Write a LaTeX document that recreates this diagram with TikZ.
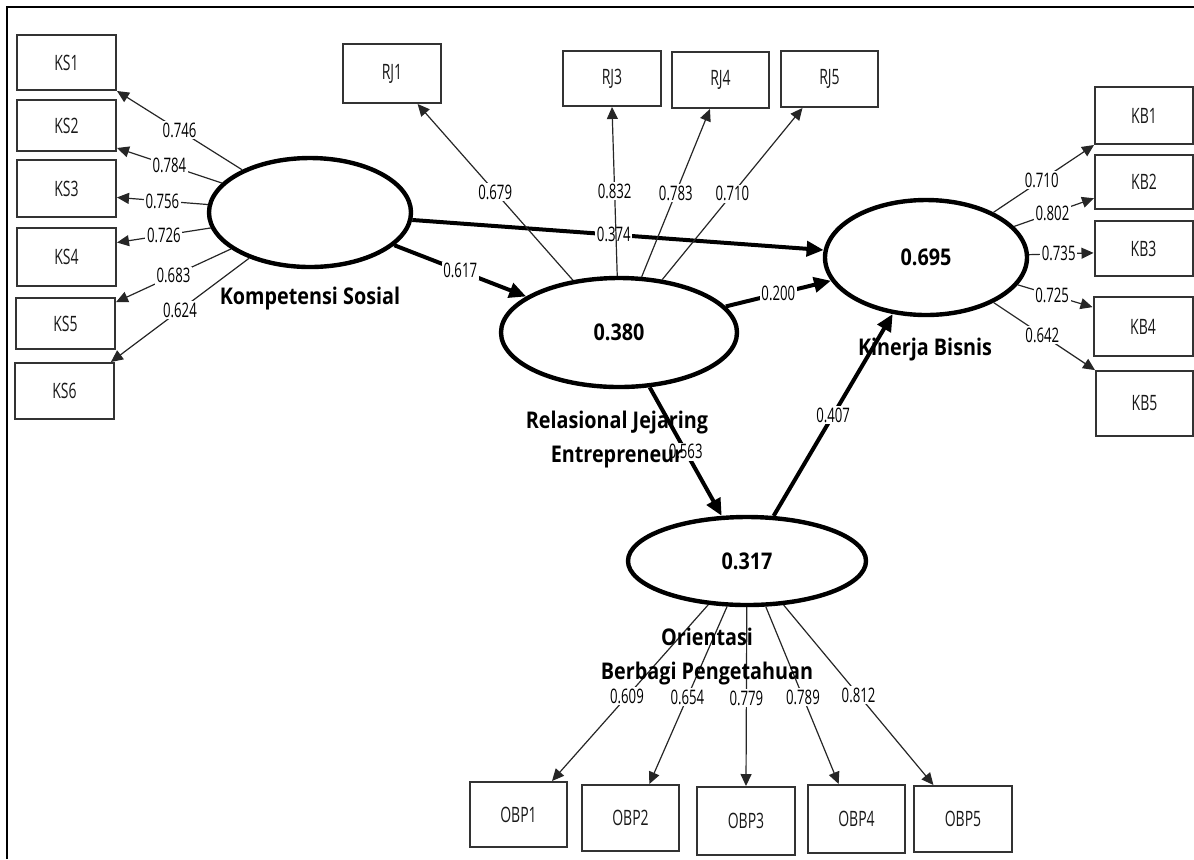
\documentclass[tikz,border=0pt]{standalone}
\usepackage{fontspec}
\setmainfont{Open Sans}
\newfontfamily\thinf[FakeStretch=0.66]{Open Sans}
\newfontfamily\boldf[FakeStretch=0.86]{Open Sans}
\usetikzlibrary{arrows.meta,shapes.geometric}
\tikzset{
  ind/.style={draw=black!80, line width=1pt, rectangle, inner sep=0pt, text=black!90,
    font=\thinf\fontsize{10.6}{12}\selectfont},
  lv/.style={draw=black, line width=2.2pt, ellipse, inner sep=0pt,
    font=\boldf\bfseries\fontsize{11.5}{13}\selectfont},
  lvtext/.style={inner sep=0pt, align=center, font=\boldf\bfseries\fontsize{11.5}{17}\selectfont},
  lbl/.style={fill=white, inner sep=0.8pt, font=\thinf\fontsize{10}{11}\selectfont},
  load/.style={draw=black!85, line width=0.6pt, -{Triangle[length=6pt,width=5.5pt]}},
  struct/.style={draw=black, line width=2pt, -{Triangle[length=8.5pt,width=7.5pt]}},
  frame/.style={draw=black, line width=1pt}
}
\begin{document}
\begin{tikzpicture}[x=0.5pt,y=-0.5pt]
\useasboundingbox (0,0) rectangle (1194,859);
% frame
\coordinate (fbl) at (7,859);
\coordinate (ftl) at (7,7);
\coordinate (ftr) at (1194,7);
\draw[frame] (fbl) -- (ftl) -- (ftr);

% latent variables
\node[lv, minimum width=101pt, minimum height=54.5pt] (ks) at (310,212.5) {};
\node[lv, minimum width=118pt, minimum height=54.5pt] (rj) at (619,332.5) {0.380};
\node[lv, minimum width=101pt, minimum height=57.5pt] (kb) at (926,257.5) {0.695};
\node[lv, minimum width=119pt, minimum height=44pt] (obp) at (747,561) {0.317};

% indicators KS
\node[ind, minimum width=49.5pt, minimum height=27.5pt] (ks1) at (66.5,62.5) {KS1};
\node[ind, minimum width=49.5pt, minimum height=25.5pt] (ks2) at (66.5,125.5) {KS2};
\node[ind, minimum width=49.5pt, minimum height=28.5pt] (ks3) at (66.5,188.5) {KS3};
\node[ind, minimum width=49.5pt, minimum height=29pt] (ks4) at (66.5,257) {KS4};
\node[ind, minimum width=49.5pt, minimum height=25.5pt] (ks5) at (65.5,323.5) {KS5};
\node[ind, minimum width=49.5pt, minimum height=28pt] (ks6) at (64.5,391) {KS6};
% indicators RJ
\node[ind, minimum width=49pt, minimum height=29.5pt] (rj1) at (392,73.5) {RJ1};
\node[ind, minimum width=49pt, minimum height=27.5pt] (rj3) at (612,78.5) {RJ3};
\node[ind, minimum width=48.5pt, minimum height=28pt] (rj4) at (720.5,80) {RJ4};
\node[ind, minimum width=48.5pt, minimum height=28pt] (rj5) at (829.5,79) {RJ5};
% indicators KB
\node[ind, minimum width=49pt, minimum height=28.5pt] (kb1) at (1144,115.5) {KB1};
\node[ind, minimum width=49pt, minimum height=27pt] (kb2) at (1144,182) {KB2};
\node[ind, minimum width=49pt, minimum height=27.5pt] (kb3) at (1143.5,248.5) {KB3};
\node[ind, minimum width=49.5pt, minimum height=29.5pt] (kb4) at (1143,326.5) {KB4};
\node[ind, minimum width=48.5pt, minimum height=32.5pt] (kb5) at (1144.5,403.5) {KB5};
% indicators OBP
\node[ind, minimum width=48.5pt, minimum height=32.5pt] (obp1) at (518.5,814.5) {OBP1};
\node[ind, minimum width=48.5pt, minimum height=33pt] (obp2) at (630.5,818) {OBP2};
\node[ind, minimum width=49pt, minimum height=34pt] (obp3) at (746,821) {OBP3};
\node[ind, minimum width=48.5pt, minimum height=34pt] (obp4) at (856.5,819) {OBP4};
\node[ind, minimum width=49pt, minimum height=33pt] (obp5) at (963,819) {OBP5};

% structural paths
\draw[struct] (ks) -- (kb) node[pos=0.49,lbl]{0.374};
\draw[struct] (ks) -- (rj) node[pos=0.5,lbl]{0.617};
\draw[struct] (rj) -- (kb) node[pos=0.5,lbl]{0.200};
\draw[struct] (rj) -- (obp) node[pos=0.5,lbl]{0.563};
\draw[struct] (obp) -- (kb) node[pos=0.5,lbl]{0.407};

% loadings KS
\draw[load] (ks) -- (ks1.south east) node[pos=0.5,lbl]{0.746};
\draw[load] (ks) -- (ks2.-24) node[pos=0.5,lbl]{0.784};
\draw[load] (ks) -- (ks3.-10) node[pos=0.5,lbl]{0.756};
\draw[load] (ks) -- (ks4.16) node[pos=0.5,lbl]{0.726};
\draw[load] (ks) -- (ks5.23) node[pos=0.5,lbl]{0.683};
\draw[load] (ks) -- (ks6.32) node[pos=0.5,lbl]{0.624};
% loadings RJ
\draw[load] (rj) -- (rj1.-50) node[pos=0.5,lbl]{0.679};
\draw[load] (rj) -- (rj3.south) node[pos=0.5,lbl]{0.832};
\draw[load] (rj) -- (rj4.-110) node[pos=0.5,lbl]{0.783};
\draw[load] (rj) -- (rj5.-133) node[pos=0.5,lbl]{0.710};
% loadings KB
\draw[load] (kb) -- (kb1.south west) node[pos=0.48,lbl]{0.710};
\draw[load] (kb) -- (kb2.198) node[pos=0.48,lbl]{0.802};
\draw[load] (kb) -- (kb3.185) node[pos=0.46,lbl]{0.735};
\draw[load] (kb) -- (kb4.159) node[pos=0.46,lbl]{0.725};
\draw[load] (kb) -- (kb5.146) node[pos=0.48,lbl]{0.642};
% loadings OBP
\draw[load] (obp) -- (obp1.45) node[pos=0.52,lbl]{0.609};
\draw[load] (obp) -- (obp2.61) node[pos=0.51,lbl]{0.654};
\draw[load] (obp) -- (obp3.north) node[pos=0.51,lbl]{0.779};
\draw[load] (obp) -- (obp4.117) node[pos=0.51,lbl]{0.789};
\draw[load] (obp) -- (obp5.131) node[pos=0.5,lbl]{0.812};

% latent variable names
\node[lvtext] (kslab) at (310,299) {Kompetensi Sosial};
\node[lvtext] (rjlab) at (617,440) {Relasional Jejaring\\Entrepreneur};
\node[lvtext] (kblab) at (925,350) {Kinerja Bisnis};
\node[lvtext] (obplab) at (707,657) {Orientasi\\Berbagi Pengetahuan};
\end{tikzpicture}
\end{document}
